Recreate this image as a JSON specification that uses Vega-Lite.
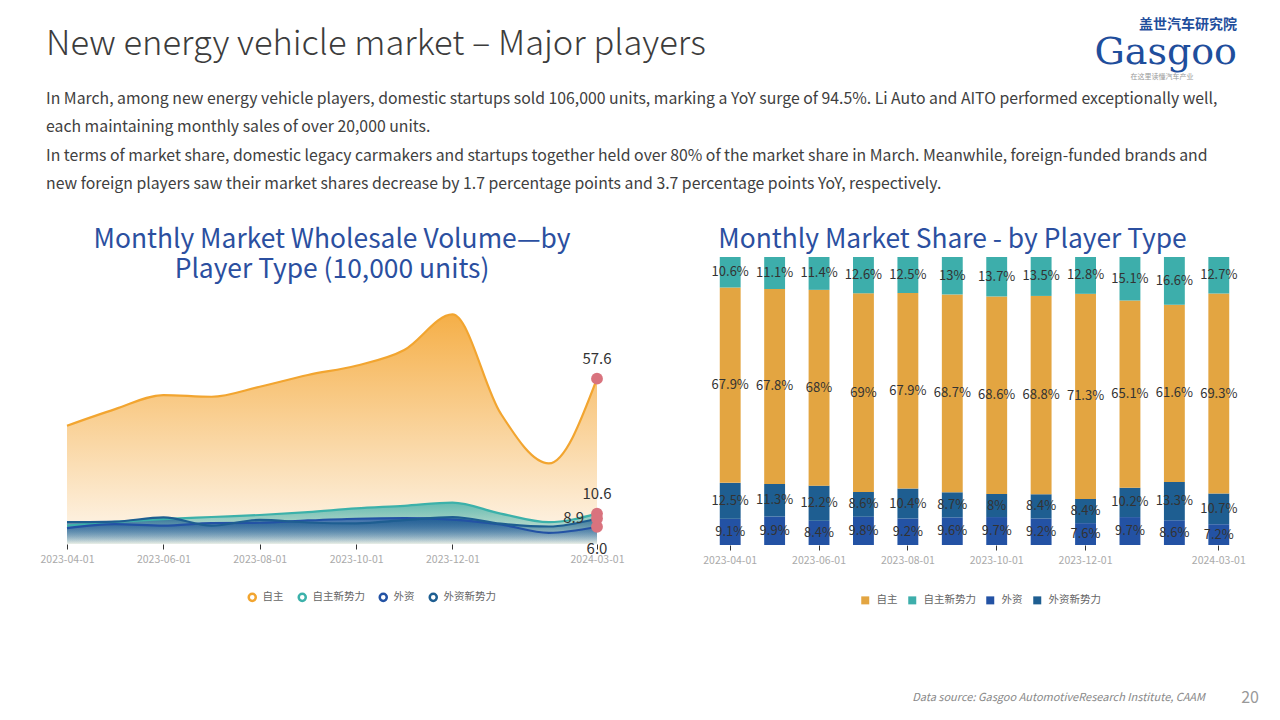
{
  "$schema": "https://vega.github.io/schema/vega-lite/v6.json",
  "padding": {"left": 40, "top": 18, "right": 0, "bottom": 10},
  "background": "white",
  "config": {
    "view": {"stroke": null},
    "font": "Noto Sans CJK SC",
    "title": {"fontWeight": "normal"}
  },
  "datasets": {
    "vol": [
      {"month": "2023-04-01", "type": "自主", "value": 41.2},
      {"month": "2023-05-01", "type": "自主", "value": 47.0},
      {"month": "2023-06-01", "type": "自主", "value": 51.9},
      {"month": "2023-07-01", "type": "自主", "value": 51.3},
      {"month": "2023-08-01", "type": "自主", "value": 54.8},
      {"month": "2023-09-01", "type": "自主", "value": 58.9},
      {"month": "2023-10-01", "type": "自主", "value": 62.1},
      {"month": "2023-11-01", "type": "自主", "value": 67.6},
      {"month": "2023-12-01", "type": "自主", "value": 80.0},
      {"month": "2024-01-01", "type": "自主", "value": 45.5},
      {"month": "2024-02-01", "type": "自主", "value": 28.1},
      {"month": "2024-03-01", "type": "自主", "value": 57.6},
      {"month": "2023-04-01", "type": "自主新势力", "value": 6.4},
      {"month": "2023-05-01", "type": "自主新势力", "value": 7.7},
      {"month": "2023-06-01", "type": "自主新势力", "value": 8.7},
      {"month": "2023-07-01", "type": "自主新势力", "value": 9.4},
      {"month": "2023-08-01", "type": "自主新势力", "value": 10.1},
      {"month": "2023-09-01", "type": "自主新势力", "value": 11.1},
      {"month": "2023-10-01", "type": "自主新势力", "value": 12.4},
      {"month": "2023-11-01", "type": "自主新势力", "value": 13.3},
      {"month": "2023-12-01", "type": "自主新势力", "value": 14.4},
      {"month": "2024-01-01", "type": "自主新势力", "value": 10.6},
      {"month": "2024-02-01", "type": "自主新势力", "value": 7.6},
      {"month": "2024-03-01", "type": "自主新势力", "value": 10.6},
      {"month": "2023-04-01", "type": "外资", "value": 5.5},
      {"month": "2023-05-01", "type": "外资", "value": 6.9},
      {"month": "2023-06-01", "type": "外资", "value": 6.4},
      {"month": "2023-07-01", "type": "外资", "value": 7.3},
      {"month": "2023-08-01", "type": "外资", "value": 7.4},
      {"month": "2023-09-01", "type": "外资", "value": 8.2},
      {"month": "2023-10-01", "type": "外资", "value": 8.8},
      {"month": "2023-11-01", "type": "外资", "value": 9.0},
      {"month": "2023-12-01", "type": "外资", "value": 8.5},
      {"month": "2024-01-01", "type": "外资", "value": 6.8},
      {"month": "2024-02-01", "type": "外资", "value": 3.9},
      {"month": "2024-03-01", "type": "外资", "value": 6.0},
      {"month": "2023-04-01", "type": "外资新势力", "value": 7.6},
      {"month": "2023-05-01", "type": "外资新势力", "value": 7.8},
      {"month": "2023-06-01", "type": "外资新势力", "value": 9.3},
      {"month": "2023-07-01", "type": "外资新势力", "value": 6.4},
      {"month": "2023-08-01", "type": "外资新势力", "value": 8.4},
      {"month": "2023-09-01", "type": "外资新势力", "value": 7.5},
      {"month": "2023-10-01", "type": "外资新势力", "value": 7.2},
      {"month": "2023-11-01", "type": "外资新势力", "value": 8.3},
      {"month": "2023-12-01", "type": "外资新势力", "value": 9.4},
      {"month": "2024-01-01", "type": "外资新势力", "value": 7.1},
      {"month": "2024-02-01", "type": "外资新势力", "value": 6.1},
      {"month": "2024-03-01", "type": "外资新势力", "value": 8.9}
    ],
    "share": [
      {"month": "2023-04-01", "type": "外资", "v": 0.091},
      {"month": "2023-04-01", "type": "外资新势力", "v": 0.125},
      {"month": "2023-04-01", "type": "自主", "v": 0.679},
      {"month": "2023-04-01", "type": "自主新势力", "v": 0.106},
      {"month": "2023-05-01", "type": "外资", "v": 0.099},
      {"month": "2023-05-01", "type": "外资新势力", "v": 0.113},
      {"month": "2023-05-01", "type": "自主", "v": 0.678},
      {"month": "2023-05-01", "type": "自主新势力", "v": 0.111},
      {"month": "2023-06-01", "type": "外资", "v": 0.084},
      {"month": "2023-06-01", "type": "外资新势力", "v": 0.122},
      {"month": "2023-06-01", "type": "自主", "v": 0.68},
      {"month": "2023-06-01", "type": "自主新势力", "v": 0.114},
      {"month": "2023-07-01", "type": "外资", "v": 0.098},
      {"month": "2023-07-01", "type": "外资新势力", "v": 0.086},
      {"month": "2023-07-01", "type": "自主", "v": 0.69},
      {"month": "2023-07-01", "type": "自主新势力", "v": 0.126},
      {"month": "2023-08-01", "type": "外资", "v": 0.092},
      {"month": "2023-08-01", "type": "外资新势力", "v": 0.104},
      {"month": "2023-08-01", "type": "自主", "v": 0.679},
      {"month": "2023-08-01", "type": "自主新势力", "v": 0.125},
      {"month": "2023-09-01", "type": "外资", "v": 0.096},
      {"month": "2023-09-01", "type": "外资新势力", "v": 0.087},
      {"month": "2023-09-01", "type": "自主", "v": 0.687},
      {"month": "2023-09-01", "type": "自主新势力", "v": 0.13},
      {"month": "2023-10-01", "type": "外资", "v": 0.097},
      {"month": "2023-10-01", "type": "外资新势力", "v": 0.08},
      {"month": "2023-10-01", "type": "自主", "v": 0.686},
      {"month": "2023-10-01", "type": "自主新势力", "v": 0.137},
      {"month": "2023-11-01", "type": "外资", "v": 0.092},
      {"month": "2023-11-01", "type": "外资新势力", "v": 0.084},
      {"month": "2023-11-01", "type": "自主", "v": 0.688},
      {"month": "2023-11-01", "type": "自主新势力", "v": 0.135},
      {"month": "2023-12-01", "type": "外资", "v": 0.076},
      {"month": "2023-12-01", "type": "外资新势力", "v": 0.084},
      {"month": "2023-12-01", "type": "自主", "v": 0.713},
      {"month": "2023-12-01", "type": "自主新势力", "v": 0.128},
      {"month": "2024-01-01", "type": "外资", "v": 0.097},
      {"month": "2024-01-01", "type": "外资新势力", "v": 0.102},
      {"month": "2024-01-01", "type": "自主", "v": 0.651},
      {"month": "2024-01-01", "type": "自主新势力", "v": 0.151},
      {"month": "2024-02-01", "type": "外资", "v": 0.086},
      {"month": "2024-02-01", "type": "外资新势力", "v": 0.133},
      {"month": "2024-02-01", "type": "自主", "v": 0.616},
      {"month": "2024-02-01", "type": "自主新势力", "v": 0.166},
      {"month": "2024-03-01", "type": "外资", "v": 0.072},
      {"month": "2024-03-01", "type": "外资新势力", "v": 0.107},
      {"month": "2024-03-01", "type": "自主", "v": 0.693},
      {"month": "2024-03-01", "type": "自主新势力", "v": 0.127}
    ]
  },
  "spacing": 0,
  "vconcat": [
    {
      "spacing": 10,
      "hconcat": [
        {
          "width": 1010, "height": 18,
          "data": {"values": []},
          "mark": "text",
          "title": {"text": "New energy vehicle market – Major players", "anchor": "start", "fontSize": 34.5, "fontWeight": 300, "color": "#3c3c3c", "offset": 10, "dx": -21}
        },
        {
          "width": 150, "height": 18,
          "data": {"values": [{"t": "在这里读懂汽车产业"}]},
          "mark": {"type": "text", "fontSize": 7, "color": "#999", "dy": -4},
          "encoding": {"text": {"field": "t", "type": "nominal"}},
          "title": {"text": "盖世汽车研究院", "anchor": "end", "fontSize": 14, "fontWeight": "bold", "color": "#1F4E9C", "offset": 0,
                    "subtitle": "Gasgoo", "subtitleFont": "DejaVu Serif", "subtitleFontSize": 38, "subtitleColor": "#1F4E9C", "subtitlePadding": 2}
        }
      ]
    },
    {
      "spacing": 78,
      "resolve": {"scale": {"color": "independent"}, "legend": {"color": "independent"}},
      "title": {
        "text": [
          "In March, among new energy vehicle players, domestic startups sold 106,000 units, marking a YoY surge of 94.5%. Li Auto and AITO performed exceptionally well,",
          "each maintaining monthly sales of over 20,000 units.",
          "In terms of market share, domestic legacy carmakers and startups together held over 80% of the market share in March. Meanwhile, foreign-funded brands and",
          "new foreign players saw their market shares decrease by 1.7 percentage points and 3.7 percentage points YoY, respectively."
        ],
        "anchor": "start", "fontSize": 15.8, "lineHeight": 28.5, "color": "#404040", "offset": 33.6, "dx": 6
      },
      "hconcat": [
        {
          "width": 530, "height": 287,
          "data": {"name": "vol"},
          "title": {"text": ["Monthly Market Wholesale Volume—by", "Player Type (10,000 units)"], "fontSize": 26.4, "lineHeight": 30, "color": "#2B4FA0", "offset": -26, "anchor": "middle"},
          "encoding": {
            "x": {"field": "month", "type": "ordinal", "scale": {"type": "point", "padding": 0},
                  "axis": {"title": null, "values": ["2023-04-01", "2023-06-01", "2023-08-01", "2023-10-01", "2023-12-01", "2024-03-01"],
                           "labelAngle": 0, "domain": false, "tickSize": 5, "tickColor": "#333", "labelColor": "#aaa", "labelFontSize": 10.5, "labelPadding": 5}},
            "y": {"field": "value", "type": "quantitative", "scale": {"domain": [0, 100]}, "axis": null}
          },
          "layer": [
            {
              "transform": [{"filter": "datum.type === '自主'"}],
              "mark": {"type": "area", "interpolate": "monotone", "opacity": 1,
                       "color": {"gradient": "linear", "x1": 0, "y1": 0, "x2": 0, "y2": 1,
                                 "stops": [{"offset": 0, "color": "#F5AF48"}, {"offset": 1, "color": "#FEF7EE"}]}}
            },
            {
              "transform": [{"filter": "datum.type === '自主新势力'"}],
              "mark": {"type": "area", "interpolate": "monotone", "opacity": 1,
                       "color": {"gradient": "linear", "x1": 0, "y1": 0, "x2": 0, "y2": 1,
                                 "stops": [{"offset": 0, "color": "rgba(64,176,170,0.8)"}, {"offset": 1, "color": "rgba(64,176,170,0.1)"}]}}
            },
            {
              "transform": [{"filter": "datum.type === '外资'"}],
              "mark": {"type": "area", "interpolate": "monotone", "opacity": 1,
                       "color": {"gradient": "linear", "x1": 0, "y1": 0, "x2": 0, "y2": 1,
                                 "stops": [{"offset": 0, "color": "rgba(35,82,164,0.8)"}, {"offset": 1, "color": "rgba(35,82,164,0)"}]}}
            },
            {
              "transform": [{"filter": "datum.type === '外资新势力'"}],
              "mark": {"type": "area", "interpolate": "monotone", "opacity": 1,
                       "color": {"gradient": "linear", "x1": 0, "y1": 0, "x2": 0, "y2": 1,
                                 "stops": [{"offset": 0, "color": "rgba(30,94,145,0.8)"}, {"offset": 1, "color": "rgba(30,94,145,0)"}]}}
            },
            {
              "mark": {"type": "line", "interpolate": "monotone", "strokeWidth": 2.2},
              "encoding": {
                "color": {"field": "type", "type": "nominal",
                          "scale": {"domain": ["自主", "自主新势力", "外资", "外资新势力"], "range": ["#F2A530", "#3CB1AA", "#2352A4", "#1E5E91"]},
                          "legend": {"orient": "none", "legendX": 180, "legendY": 335, "direction": "horizontal", "title": null,
                                     "symbolType": "circle", "symbolSize": 50, "symbolStrokeWidth": 2.5, "symbolFillColor": "white",
                                     "labelFontSize": 10.5, "labelColor": "#666", "labelOffset": 5, "columnPadding": 9}}
              }
            },
            {
              "transform": [{"filter": "datum.month === '2024-03-01'"}],
              "mark": {"type": "circle", "size": 140, "color": "#D9737E", "opacity": 1}
            },
            {
              "transform": [{"filter": "datum.month === '2024-03-01' && (datum.type === '自主' || datum.type === '自主新势力')"}],
              "mark": {"type": "text", "dy": -20, "fontSize": 15, "color": "#333"},
              "encoding": {"text": {"field": "value", "type": "quantitative", "format": ".1f"}}
            },
            {
              "transform": [{"filter": "datum.month === '2024-03-01' && datum.type === '外资新势力'"}],
              "mark": {"type": "text", "align": "right", "dx": -13, "fontSize": 15, "color": "#333"},
              "encoding": {"text": {"field": "value", "type": "quantitative", "format": ".1f"}}
            },
            {
              "transform": [{"filter": "datum.month === '2024-03-01' && datum.type === '外资'"}],
              "mark": {"type": "text", "dy": 22, "fontSize": 15, "color": "#333"},
              "encoding": {"text": {"field": "value", "type": "quantitative", "format": ".1f"}}
            }
          ]
        },
        {
          "width": 533, "height": 288,
          "data": {"name": "share"},
          "title": {"text": "Monthly Market Share - by Player Type", "fontSize": 26.4, "color": "#2B4FA0", "offset": 4, "anchor": "middle", "dx": -22},
          "transform": [{"stack": "v", "groupby": ["month"], "sort": [{"field": "type", "order": "ascending"}], "as": ["y0", "y1"], "offset": "normalize"}],
          "encoding": {
            "x": {"field": "month", "type": "ordinal", "scale": {"type": "band", "paddingInner": 0.53, "paddingOuter": 0.265},
                  "axis": {"title": null, "values": ["2023-04-01", "2023-06-01", "2023-08-01", "2023-10-01", "2023-12-01", "2024-03-01"],
                           "labelAngle": 0, "domain": false, "tickSize": 5, "tickColor": "#333", "labelColor": "#aaa", "labelFontSize": 10.5, "labelPadding": 5}}
          },
          "layer": [
            {
              "mark": {"type": "bar"},
              "encoding": {
                "y": {"field": "y0", "type": "quantitative", "scale": {"domain": [0, 1]}, "axis": null},
                "y2": {"field": "y1"},
                "color": {"field": "type", "type": "nominal",
                          "scale": {"domain": ["自主", "自主新势力", "外资", "外资新势力"], "range": ["#E3A541", "#3DAEAB", "#2352A4", "#1E5E91"]},
                          "legend": {"orient": "none", "legendX": 152, "legendY": 338, "direction": "horizontal", "title": null,
                                     "symbolType": "square", "symbolSize": 64, "labelFontSize": 10.5, "labelColor": "#666", "labelOffset": 6, "columnPadding": 9}}
              }
            },
            {
              "transform": [
                {"fold": ["y0", "y1"], "as": ["k", "yy"]},
                {"aggregate": [{"op": "mean", "field": "yy", "as": "ymid"}], "groupby": ["month", "type", "v"]}
              ],
              "mark": {"type": "text", "fontSize": 13, "color": "#333"},
              "encoding": {
                "y": {"field": "ymid", "type": "quantitative", "scale": {"domain": [0, 1]}, "axis": null},
                "text": {"field": "v", "type": "quantitative", "format": ".1~%"}
              }
            }
          ]
        }
      ]
    },
    {
      "spacing": 30,
      "hconcat": [
        {
          "width": 1138, "height": 80,
          "data": {"values": []},
          "mark": "text",
          "title": {"text": "Data source: Gasgoo AutomotiveResearch Institute, CAAM", "orient": "bottom", "anchor": "end", "fontSize": 11, "fontStyle": "italic", "color": "#888", "offset": 6}
        },
        {
          "width": 30, "height": 80,
          "data": {"values": []},
          "mark": "text",
          "title": {"text": "20", "orient": "bottom", "anchor": "middle", "fontSize": 16, "color": "#999", "offset": 4}
        }
      ]
    }
  ]
}
